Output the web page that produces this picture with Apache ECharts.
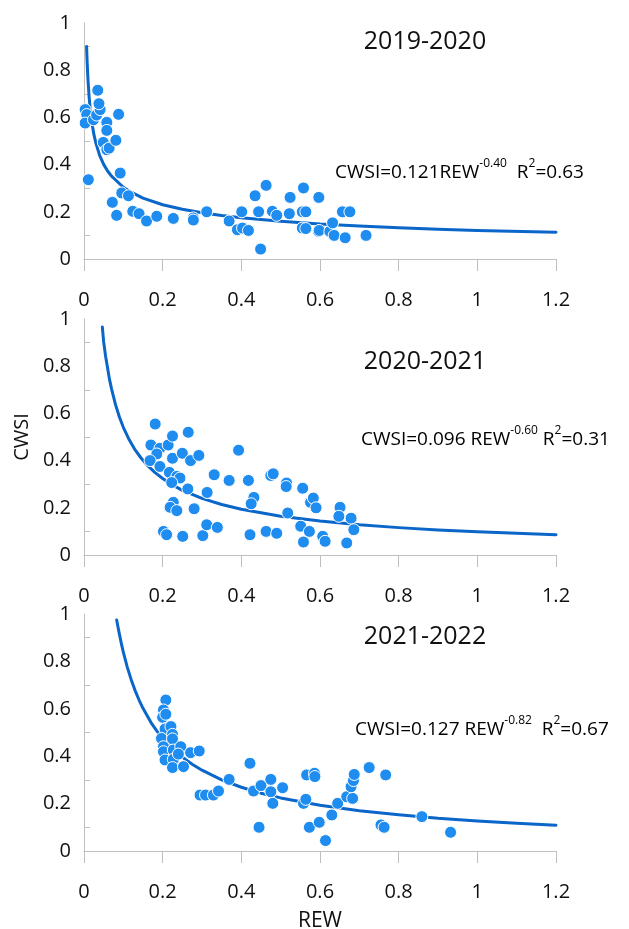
<!DOCTYPE html>
<html>
<head>
<meta charset="utf-8">
<script src="https://cdn.jsdelivr.net/npm/echarts@6/dist/echarts.min.js"></script>
<style>
  html, body { margin: 0; padding: 0; background: #fff; }
  #chart { width: 629px; height: 929px; }
</style>
</head>
<body>
<div id="chart"></div>
<script>
// season labels and fitted equations shown on each panel
const seasons = ['2019-2020', '2020-2021', '2021-2022'];
const coefs = ['0.121', '0.096 ', '0.127 '];
const exponents = ['-0.40', '-0.60', '-0.82'];
const r2s = ['0.63', '0.31', '0.67'];
const xTicks = [0, 1.2, 0.2];   // min, max, interval
const yTicks = [0, 1, 0.2];

// measured points [REW, CWSI]
const pts1920 = [
  [0.003, 0.633], [0.007, 0.612], [0.003, 0.576], [0.011, 0.336], [0.024, 0.59],
  [0.032, 0.61], [0.041, 0.633], [0.035, 0.715], [0.038, 0.658], [0.058, 0.579],
  [0.058, 0.545], [0.049, 0.494], [0.058, 0.463], [0.064, 0.47], [0.081, 0.503],
  [0.088, 0.613], [0.092, 0.364], [0.072, 0.24], [0.083, 0.185], [0.096, 0.28],
  [0.113, 0.268], [0.124, 0.202], [0.14, 0.192], [0.159, 0.161], [0.185, 0.181],
  [0.227, 0.172], [0.278, 0.174], [0.278, 0.165], [0.312, 0.2], [0.369, 0.161],
  [0.39, 0.124], [0.403, 0.131], [0.401, 0.2], [0.418, 0.121], [0.435, 0.268],
  [0.444, 0.2], [0.449, 0.042], [0.463, 0.312], [0.479, 0.202], [0.49, 0.185],
  [0.522, 0.192], [0.524, 0.261], [0.558, 0.301], [0.555, 0.2], [0.564, 0.2],
  [0.555, 0.131], [0.564, 0.129], [0.597, 0.261], [0.596, 0.117], [0.598, 0.121],
  [0.625, 0.117], [0.632, 0.153], [0.636, 0.1], [0.657, 0.2], [0.676, 0.2],
  [0.664, 0.09], [0.717, 0.1]
];
const pts2021 = [
  [0.181, 0.555], [0.17, 0.466], [0.193, 0.452], [0.185, 0.428], [0.168, 0.4],
  [0.193, 0.375], [0.214, 0.466], [0.225, 0.504], [0.225, 0.41], [0.217, 0.35],
  [0.236, 0.333], [0.244, 0.326], [0.223, 0.307], [0.25, 0.431], [0.265, 0.52],
  [0.271, 0.4], [0.292, 0.422], [0.264, 0.28], [0.227, 0.223], [0.219, 0.202],
  [0.236, 0.188], [0.28, 0.196], [0.202, 0.1], [0.21, 0.086], [0.251, 0.079],
  [0.302, 0.082], [0.312, 0.128], [0.339, 0.117], [0.313, 0.265], [0.331, 0.34],
  [0.369, 0.316], [0.393, 0.444], [0.418, 0.316], [0.432, 0.244], [0.425, 0.217],
  [0.422, 0.086], [0.463, 0.1], [0.49, 0.092], [0.475, 0.337], [0.481, 0.344],
  [0.515, 0.305], [0.514, 0.29], [0.518, 0.178], [0.551, 0.122], [0.558, 0.055],
  [0.573, 0.1], [0.556, 0.283], [0.576, 0.223], [0.583, 0.241], [0.59, 0.2],
  [0.607, 0.079], [0.613, 0.058], [0.651, 0.202], [0.648, 0.164], [0.668, 0.051],
  [0.679, 0.156], [0.686, 0.107]
];
const pts2122 = [
  [0.208, 0.637], [0.202, 0.595], [0.2, 0.564], [0.208, 0.577], [0.206, 0.515],
  [0.221, 0.525], [0.197, 0.475], [0.225, 0.492], [0.225, 0.473], [0.202, 0.44],
  [0.202, 0.419], [0.227, 0.426], [0.206, 0.384], [0.227, 0.387], [0.246, 0.44],
  [0.24, 0.409], [0.225, 0.352], [0.253, 0.356], [0.271, 0.415], [0.293, 0.422],
  [0.295, 0.236], [0.309, 0.236], [0.329, 0.236], [0.342, 0.253], [0.369, 0.302],
  [0.422, 0.37], [0.431, 0.253], [0.45, 0.276], [0.475, 0.302], [0.475, 0.25],
  [0.48, 0.201], [0.505, 0.267], [0.445, 0.1], [0.558, 0.201], [0.564, 0.218],
  [0.566, 0.321], [0.586, 0.328], [0.587, 0.314], [0.573, 0.1], [0.598, 0.121],
  [0.614, 0.044], [0.63, 0.152], [0.645, 0.201], [0.668, 0.229], [0.683, 0.222],
  [0.679, 0.271], [0.685, 0.297], [0.687, 0.323], [0.725, 0.352], [0.767, 0.321],
  [0.755, 0.11], [0.763, 0.1], [0.859, 0.145], [0.932, 0.079]
];

// fitted curves as traced on the picture
const fit1920 = [
  [0.0066, 0.9], [0.0073, 0.866], [0.008, 0.835], [0.01, 0.763], [0.013, 0.687],
  [0.016, 0.633], [0.02, 0.579], [0.025, 0.529], [0.03, 0.492], [0.04, 0.438],
  [0.05, 0.401], [0.06, 0.373], [0.07, 0.351], [0.1, 0.304], [0.12, 0.283],
  [0.15, 0.258], [0.2, 0.23], [0.25, 0.211], [0.3, 0.196], [0.35, 0.184],
  [0.4, 0.175], [0.5, 0.16], [0.6, 0.148], [0.7, 0.14], [0.8, 0.132],
  [0.9, 0.126], [1.0, 0.121], [1.2, 0.113]
];
const fit2021 = [
  [0.0466, 0.966], [0.05, 0.903], [0.055, 0.841], [0.065, 0.743], [0.07, 0.704],
  [0.08, 0.638], [0.09, 0.585], [0.1, 0.541], [0.115, 0.488], [0.13, 0.445],
  [0.145, 0.411], [0.16, 0.382], [0.18, 0.35], [0.2, 0.324], [0.225, 0.297],
  [0.25, 0.274], [0.3, 0.24], [0.35, 0.214], [0.4, 0.194], [0.5, 0.164],
  [0.6, 0.144], [0.7, 0.128], [0.8, 0.116], [0.9, 0.106], [1.0, 0.098],
  [1.1, 0.092], [1.2, 0.086]
];
const fit2122 = [
  [0.083, 0.975], [0.09, 0.915], [0.095, 0.875], [0.1, 0.839], [0.11, 0.776],
  [0.12, 0.723], [0.13, 0.677], [0.14, 0.637], [0.15, 0.602], [0.17, 0.543],
  [0.185, 0.507], [0.2, 0.475], [0.225, 0.431], [0.25, 0.396], [0.275, 0.366],
  [0.3, 0.341], [0.35, 0.3], [0.4, 0.269], [0.45, 0.244], [0.5, 0.224],
  [0.6, 0.193], [0.7, 0.17], [0.8, 0.153], [0.9, 0.138], [1.0, 0.127],
  [1.1, 0.117], [1.2, 0.109]
];

const points = [pts1920, pts2021, pts2122];
const fits = [fit1920, fit2021, fit2122];

const FONT = '"Open Sans", "Noto Sans", sans-serif';
const gridTops = [23, 319, 614];
const gridHeights = [236, 236, 237];
const titleY = [42, 362, 637];
const eqPos = [[335, 169], [361, 436], [355, 726]];

const chart = echarts.init(document.getElementById('chart'), null, { renderer: 'canvas' });

const grids = gridTops.map((t, i) => ({
    left: 84, top: t, width: 472, height: gridHeights[i],
    outerBoundsMode: 'none'
}));

const xAxes = gridTops.map((t, i) => ({
    type: 'value', gridIndex: i,
    min: xTicks[0], max: xTicks[1], interval: xTicks[2],
    name: i === 2 ? 'REW' : '',
    nameLocation: 'middle', nameGap: 60,
    nameTextStyle: { fontFamily: FONT, fontSize: 21, color: '#111' },
    splitLine: { show: false },
    axisLine: { show: true, onZero: false, lineStyle: { color: '#bfbfbf', width: 1 } },
    axisTick: { show: true, length: 12, lineStyle: { color: '#bfbfbf' } },
    axisLabel: { fontFamily: FONT, fontSize: 20, color: '#111', margin: 31 }
}));

const yAxes = gridTops.map((t, i) => ({
    type: 'value', gridIndex: i,
    min: yTicks[0], max: yTicks[1], interval: yTicks[2],
    name: i === 1 ? 'CWSI' : '',
    nameLocation: 'middle', nameGap: 52,
    nameTextStyle: { fontFamily: FONT, fontSize: 20, color: '#111' },
    splitLine: { show: false },
    axisLine: { show: true, onZero: false, lineStyle: { color: '#bfbfbf', width: 1 } },
    axisTick: { show: false, inside: true },
    minorTick: { show: true, splitNumber: 2, length: 6, lineStyle: { color: '#bfbfbf' } },
    axisLabel: { fontFamily: FONT, fontSize: 20, color: '#111', margin: 13 }
}));

const series = [];
fits.forEach((f, i) => {
    series.push({
        type: 'line', xAxisIndex: i, yAxisIndex: i,
        data: f, smooth: false,
        showSymbol: false, silent: true, z: 2,
        lineStyle: { color: '#0a66c8', width: 3, cap: 'round', join: 'round' }
    });
});
points.forEach((p, i) => {
    series.push({
        type: 'scatter', xAxisIndex: i, yAxisIndex: i,
        data: p, symbolSize: 12, z: 3,
        itemStyle: { color: '#1f8cf0', borderColor: '#ffffff', borderWidth: 1, opacity: 1 }
    });
});

const graphics = [];
seasons.forEach((s, i) => {
    graphics.push({
        type: 'text', x: 425, y: titleY[i], z: 10,
        style: {
            text: s, fill: '#111', font: '25px ' + FONT,
            align: 'center', verticalAlign: 'middle'
        }
    });
    graphics.push({
        type: 'text', x: eqPos[i][0], y: eqPos[i][1], z: 10,
        style: {
            text: '{m|CWSI=' + coefs[i] + 'REW}{s|' + exponents[i] + '}{m|' + (i === 1 ? ' ' : '  ') + 'R}{s|2}{m|=' + r2s[i] + '}',
            align: 'left', verticalAlign: 'middle',
            rich: {
                m: { fontFamily: FONT, fontSize: 19, color: '#111', lineHeight: 26, verticalAlign: 'bottom' },
                s: { fontFamily: FONT, fontSize: 12, color: '#111', lineHeight: 26, verticalAlign: 'top', padding: [2, 0, 0, 0] }
            }
        }
    });
});

chart.setOption({
    backgroundColor: '#ffffff',
    animation: false,
    grid: grids,
    xAxis: xAxes,
    yAxis: yAxes,
    series: series,
    graphic: graphics
});
</script>
</body>
</html>
